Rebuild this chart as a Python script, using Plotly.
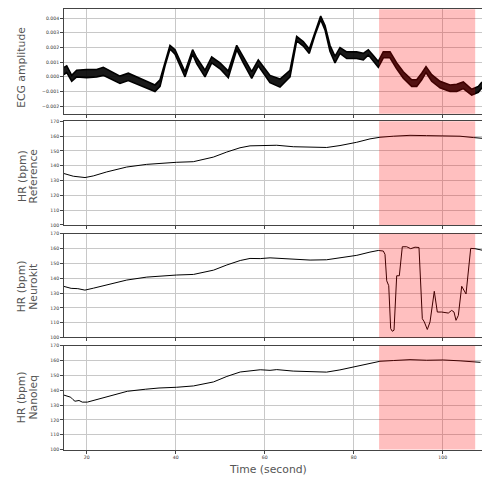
import plotly.graph_objects as go
from plotly.subplots import make_subplots

# ---------------- data ----------------
ecg_time = [14.90, 15.51, 16.63, 17.75, 20.00, 22.25, 23.73, 25.98, 27.48, 29.35,
            31.24, 33.48, 35.35, 36.48, 37.60, 38.72, 39.85, 42.09, 43.80, 44.72,
            46.58, 48.09, 49.96, 51.82, 53.71, 55.19, 57.08, 58.56, 61.19, 63.44,
            65.69, 67.19, 68.67, 70.02, 71.30, 72.58, 73.55, 74.67, 75.80, 76.92,
            78.43, 80.67, 82.16, 83.28, 84.40, 85.53, 86.65, 88.16, 89.66, 91.15,
            93.03, 94.16, 95.28, 96.25, 97.53, 99.39, 101.64, 103.15, 104.63, 106.52,
            108.00, 108.83]
ecg_upper = [0.00065, 0.00075, 0.00010, 0.00045, 0.00050, 0.00050, 0.00065, 0.00030, 0.00005, 0.00025,
             0.00000, -0.00025, -0.00055, -0.00020, 0.00105, 0.00215, 0.00185, 0.00035, 0.00185, 0.00130,
             0.00045, 0.00135, 0.00095, 0.00040, 0.00215, 0.00135, 0.00035, 0.00115, 0.00010, -0.00015,
             0.00045, 0.00275, 0.00240, 0.00190, 0.00305, 0.00415, 0.00350, 0.00215, 0.00140, 0.00200,
             0.00170, 0.00170, 0.00160, 0.00185, 0.00145, 0.00105, 0.00170, 0.00170, 0.00095, 0.00035,
             -0.00020, -0.00020, 0.00025, 0.00070, 0.00015, -0.00030, -0.00055, -0.00050, -0.00035, -0.00085,
             -0.00065, -0.00035]
ecg_lower = [0.00015, 0.00030, -0.00030, 0.00000, -0.00005, 0.00000, 0.00010, -0.00020, -0.00045, -0.00025,
             -0.00050, -0.00075, -0.00100, -0.00065, 0.00075, 0.00190, 0.00155, 0.00000, 0.00155, 0.00090,
             0.00000, 0.00095, 0.00055, -0.00005, 0.00185, 0.00095, -0.00010, 0.00075, -0.00040, -0.00070,
             0.00000, 0.00245, 0.00210, 0.00160, 0.00285, 0.00390, 0.00320, 0.00175, 0.00095, 0.00160,
             0.00125, 0.00125, 0.00115, 0.00150, 0.00105, 0.00065, 0.00130, 0.00130, 0.00055, -0.00010,
             -0.00065, -0.00065, -0.00020, 0.00030, -0.00030, -0.00075, -0.00100, -0.00100, -0.00080, -0.00125,
             -0.00105, -0.00075]

ref_time = [14.90, 16.99, 19.62, 21.48, 24.49, 28.99, 33.48, 36.47, 40.22, 43.96,
            48.45, 51.46, 54.45, 56.70, 58.97, 61.21, 62.70, 66.43, 70.18, 73.93,
            76.92, 80.67, 83.66, 85.91, 88.90, 92.65, 96.40, 100.13, 103.89, 106.88, 108.83]
hr_reference = [134.7, 132.9, 132.0, 133.1, 135.8, 139.1, 140.9, 141.6, 142.3, 142.7,
                145.8, 149.2, 152.1, 153.4, 153.6, 153.6, 153.8, 152.8, 152.5, 152.3,
                153.6, 155.8, 158.1, 159.2, 159.9, 160.5, 160.3, 160.3, 159.9, 159.0, 158.5]

nk_time = [14.90, 16.50, 18.00, 19.60, 21.50, 23.00, 24.50, 26.50, 29.00, 33.50,
           36.50, 40.20, 44.00, 48.50, 51.50, 54.50, 56.70, 59.00, 61.20, 62.70,
           66.40, 70.20, 73.90, 76.90, 80.70, 83.66, 85.53, 86.65, 87.03, 87.42,
           87.87, 88.31, 88.67, 89.06, 89.66, 90.25, 90.92, 91.91, 92.81, 93.78,
           94.67, 95.42, 95.87, 96.54, 97.15, 98.11, 98.79, 99.78, 101.26, 102.02,
           102.54, 102.99, 103.51, 104.27, 105.24, 106.29, 107.26, 108.83]
hr_neurokit = [134.5, 133.2, 133.0, 132.0, 133.3, 134.3, 135.5, 137.0, 138.8, 140.8,
               141.6, 142.2, 142.6, 145.5, 149.0, 152.0, 153.4, 153.3, 153.8, 153.5,
               153.0, 152.3, 152.5, 153.8, 155.5, 157.7, 158.8, 158.4, 156.2, 138.3,
               135.0, 106.0, 104.2, 104.9, 141.7, 141.7, 161.3, 161.3, 160.0, 161.0,
               160.8, 112.7, 110.5, 105.4, 110.5, 131.2, 117.2, 117.2, 116.5, 118.3,
               117.2, 111.6, 114.9, 134.6, 129.4, 160.2, 160.0, 159.0]

nl_time = [14.90, 16.40, 16.92, 17.37, 18.27, 19.01, 20.14, 22.77, 25.76, 29.13,
           33.26, 36.25, 40.20, 44.00, 48.50, 51.50, 54.50, 56.70, 59.00, 61.20,
           62.70, 66.40, 70.20, 73.90, 76.90, 80.70, 83.70, 85.90, 88.90, 92.65,
           96.40, 100.10, 103.90, 106.90, 108.50]
hr_nanoleq = [136.7, 135.3, 133.7, 132.6, 133.1, 132.0, 132.0, 134.2, 136.4, 139.3,
              140.7, 141.5, 142.0, 142.9, 145.6, 149.3, 152.3, 153.2, 153.8, 153.4,
              153.9, 152.9, 152.6, 152.2, 153.7, 156.0, 158.0, 159.5, 160.0, 160.6,
              160.2, 160.4, 159.8, 159.3, 158.8]

span_start, span_end = 85.7, 107.3
x_ticks = [20, 40, 60, 80, 100]
ecg_ticks = [-0.002, -0.001, 0.0, 0.001, 0.002, 0.003, 0.004]
ecg_tick_text = ["\u22120.002", "\u22120.001", "0.000", "0.001", "0.002", "0.003", "0.004"]
hr_ticks = [100, 110, 120, 130, 140, 150, 160, 170]
panel_labels = [["ECG amplitude"], ["HR (bpm)", "Reference"], ["HR (bpm)", "Neurokit"], ["HR (bpm)", "Nanoleq"]]

# ---------------- figure ----------------
W, H = 482, 483
fig = make_subplots(rows=4, cols=1, shared_xaxes=True)

fig.add_trace(go.Scatter(x=ecg_time, y=ecg_upper, mode="lines", line=dict(color="black", width=1.6),
                         showlegend=False, hoverinfo="skip"), row=1, col=1)
fig.add_trace(go.Scatter(x=ecg_time, y=ecg_lower, mode="lines", line=dict(color="black", width=1.6),
                         fill="tonexty", fillcolor="rgba(0,0,0,0.9)", showlegend=False, hoverinfo="skip"),
              row=1, col=1)
fig.add_trace(go.Scatter(x=ref_time, y=hr_reference, mode="lines", line=dict(color="black", width=1),
                         showlegend=False), row=2, col=1)
fig.add_trace(go.Scatter(x=nk_time, y=hr_neurokit, mode="lines", line=dict(color="black", width=1),
                         showlegend=False), row=3, col=1)
fig.add_trace(go.Scatter(x=nl_time, y=hr_nanoleq, mode="lines", line=dict(color="black", width=1),
                         showlegend=False), row=4, col=1)

# panel geometry in pixels (top, bottom)
panels_px = [(7.3, 113.0), (120.5, 225.3), (234.3, 339.0), (347.3, 452.3)]
x_dom = [64 / W, 1.0]
tick_font = dict(family="DejaVu Sans", size=4.6, color="#333333")
axis_line = "#444444"
grid_col = "#c8c8c8"

for i, (top, bot) in enumerate(panels_px):
    n = "" if i == 0 else str(i + 1)
    fig.layout["yaxis" + n].update(
        domain=[1 - bot / H, 1 - top / H],
        showline=True, linecolor=axis_line, linewidth=1, mirror=False,
        ticks="outside", ticklen=3, tickcolor=axis_line, tickwidth=0.8,
        showgrid=True, gridcolor=grid_col, gridwidth=0.8, zeroline=False,
        tickfont=tick_font,
    )
    fig.layout["xaxis" + n].update(
        domain=x_dom, range=[14.9, 108.83],
        showline=True, linecolor=axis_line, linewidth=1, mirror=True,
        ticks="outside", ticklen=3, tickcolor=axis_line, tickwidth=0.8,
        tickvals=x_ticks, showgrid=True, gridcolor=grid_col, gridwidth=0.8, zeroline=False,
        showticklabels=(i == 3), tickfont=tick_font,
    )

fig.layout.yaxis.update(range=[-0.00252, 0.00461], tickvals=ecg_ticks, ticktext=ecg_tick_text)
for n in ["2", "3", "4"]:
    fig.layout["yaxis" + n].update(range=[100, 170], tickvals=hr_ticks)

# red span over all panels
for i in range(4):
    n = "" if i == 0 else str(i + 1)
    fig.add_shape(type="rect", xref="x" + n, yref=("y" + n) + " domain",
                  x0=span_start, x1=span_end, y0=0, y1=1,
                  fillcolor="rgba(255,0,0,0.25)", line=dict(width=0), layer="above")

# axis titles as annotations
title_font = dict(family="DejaVu Sans", size=10.8, color="#555555")
label_centers = [66.0, 176.0, 287.5, 399.5]
for labels, cy in zip(panel_labels, label_centers):
    if len(labels) == 1:
        xs = [21.5]
    else:
        xs = [21.8, 33.2]
    for txt, xpx in zip(labels, xs):
        fig.add_annotation(text=txt, xref="paper", yref="paper", x=xpx / W, y=1 - cy / H,
                           xanchor="center", yanchor="middle", textangle=-90,
                           showarrow=False, font=title_font)
fig.add_annotation(text="Time (second)", xref="paper", yref="paper", x=267.8 / W, y=1 - 472.5 / H,
                   xanchor="center", yanchor="middle", showarrow=False, font=title_font)

fig.update_layout(width=W, height=H, margin=dict(l=0, r=0, t=0, b=0),
                  paper_bgcolor="white", plot_bgcolor="white",
                  font=dict(family="DejaVu Sans"))

fig.write_html("out.html", config={"displayModeBar": False},
               post_script="document.body.style.margin='0';")
